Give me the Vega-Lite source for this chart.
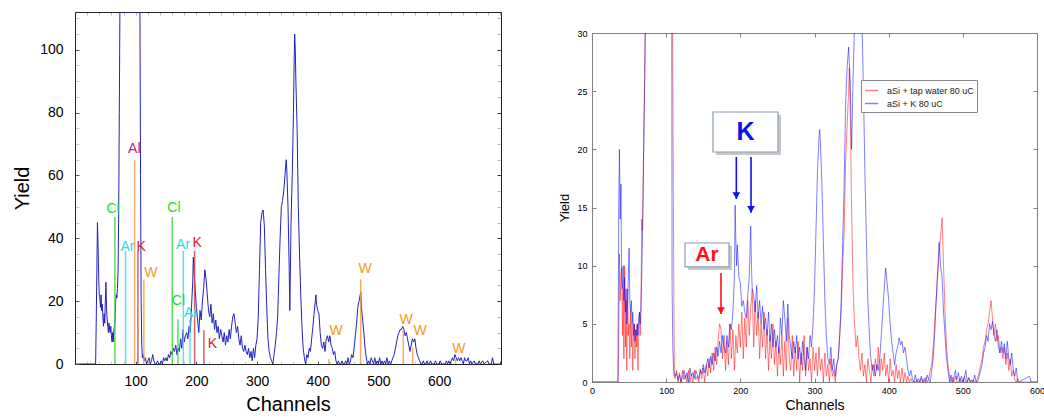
{
"$schema": "https://vega.github.io/schema/vega-lite/v6.json",
"background": "white",
"padding": {"left": 12, "top": 11, "right": 0, "bottom": 0},
"config": {
 "font": "Liberation Sans",
 "view": {"stroke": null},
 "axis": {"grid": false, "labelFont": "Liberation Sans", "titleFont": "Liberation Sans", "titleFontWeight": "normal", "labelFlush": false, "labelOverlap": false, "labelColor": "#000000", "titleColor": "#000000"}
},
"datasets": {
 "left": [
  {"c":0,"y":0},{"c":30,"y":0},{"c":34,"y":0},{"c":35,"y":14},{"c":36,"y":30},{"c":37,"y":45},{"c":38,"y":38},{"c":39,"y":28},{"c":40,"y":22},{"c":41,"y":21},{"c":42,"y":18},{"c":43,"y":22},{"c":44,"y":17},{"c":45,"y":19},{"c":46,"y":15},{"c":47,"y":12},{"c":48,"y":16},{"c":49,"y":13},{"c":50,"y":20},{"c":51,"y":26},{"c":52,"y":18},{"c":53,"y":14},{"c":54,"y":12},{"c":55,"y":10},{"c":56,"y":13},{"c":57,"y":11},{"c":58,"y":10},{"c":59,"y":12},{"c":60,"y":9},{"c":61,"y":7},{"c":62,"y":10},{"c":63,"y":7},{"c":64,"y":11},{"c":65,"y":12},{"c":66,"y":14},{"c":67,"y":20},{"c":68,"y":22},{"c":69,"y":21},{"c":70,"y":24},{"c":71,"y":30},{"c":72,"y":48},{"c":73,"y":80},{"c":74,"y":112},{"c":90,"y":112},{"c":107,"y":112},{"c":108,"y":60},{"c":109,"y":20},{"c":110,"y":6},{"c":111,"y":2},
  {"c":112,"y":3},{"c":114,"y":1},{"c":116,"y":2},{"c":118,"y":0},{"c":120,"y":1},{"c":122,"y":2},{"c":124,"y":0},{"c":126,"y":1},{"c":128,"y":3},{"c":130,"y":1},{"c":132,"y":0},{"c":134,"y":0},{"c":136,"y":1},{"c":138,"y":0},{"c":140,"y":0},{"c":142,"y":1},{"c":144,"y":0},{"c":146,"y":2},{"c":148,"y":1},{"c":150,"y":2},{"c":152,"y":1},{"c":154,"y":3},{"c":156,"y":2},{"c":158,"y":4},{"c":160,"y":3},{"c":162,"y":5},{"c":164,"y":4},{"c":166,"y":6},{"c":168,"y":3},{"c":170,"y":5},{"c":172,"y":4},{"c":174,"y":8},{"c":176,"y":5},{"c":178,"y":11},{"c":180,"y":7},{"c":182,"y":9},{"c":184,"y":10},{"c":186,"y":8},{"c":188,"y":12},{"c":190,"y":10},{"c":192,"y":18},{"c":194,"y":26},{"c":195,"y":34},{"c":196,"y":30},{"c":198,"y":24},{"c":200,"y":18},{"c":202,"y":14},{"c":204,"y":10},{"c":206,"y":17},{"c":208,"y":14},{"c":210,"y":20},{"c":212,"y":24},{"c":214,"y":30},{"c":216,"y":27},{"c":218,"y":22},{"c":220,"y":17},{"c":222,"y":15},{"c":224,"y":19},{"c":226,"y":13},{"c":228,"y":16},{"c":230,"y":11},{"c":232,"y":14},{"c":234,"y":10},{"c":236,"y":12},{"c":238,"y":8},{"c":240,"y":11},{"c":242,"y":9},{"c":244,"y":7},{"c":246,"y":10},{"c":248,"y":6},{"c":250,"y":9},{"c":252,"y":7},{"c":254,"y":11},{"c":256,"y":8},{"c":258,"y":12},{"c":260,"y":15},{"c":262,"y":16},{"c":264,"y":13},{"c":266,"y":10},{"c":268,"y":12},{"c":270,"y":8},{"c":272,"y":6},{"c":274,"y":9},{"c":276,"y":5},{"c":278,"y":4},{"c":280,"y":6},{"c":282,"y":4},{"c":284,"y":3},{"c":286,"y":5},{"c":288,"y":2},{"c":290,"y":4},{"c":292,"y":1},{"c":294,"y":5},{"c":296,"y":2},{"c":298,"y":6},{"c":300,"y":8},{"c":302,"y":15},{"c":304,"y":30},{"c":306,"y":45},{"c":308,"y":48},{"c":310,"y":49},{"c":312,"y":44},{"c":314,"y":30},{"c":316,"y":18},{"c":318,"y":8},{"c":320,"y":4},{"c":322,"y":2},{"c":324,"y":1},{"c":326,"y":0},{"c":328,"y":3},{"c":330,"y":6},{"c":332,"y":10},{"c":334,"y":15},{"c":336,"y":28},{"c":338,"y":40},{"c":340,"y":50},{"c":342,"y":52},{"c":344,"y":55},{"c":346,"y":60},{"c":348,"y":65},{"c":349,"y":62},{"c":351,"y":50},{"c":353,"y":30},{"c":354,"y":17},{"c":356,"y":45},{"c":358,"y":60},{"c":360,"y":80},{"c":361,"y":95},{"c":362,"y":105},{"c":363,"y":100},{"c":364,"y":90},{"c":366,"y":75},{"c":368,"y":50},{"c":370,"y":35},{"c":372,"y":22},{"c":374,"y":12},{"c":376,"y":5},{"c":378,"y":2},{"c":380,"y":0},{"c":382,"y":3},{"c":384,"y":2},{"c":386,"y":5},{"c":388,"y":4},{"c":390,"y":8},{"c":392,"y":12},{"c":394,"y":16},{"c":396,"y":20},{"c":397,"y":22},{"c":398,"y":19},{"c":400,"y":17},{"c":402,"y":16},{"c":404,"y":10},{"c":406,"y":6},{"c":408,"y":5},{"c":410,"y":7},{"c":412,"y":4},{"c":414,"y":8},{"c":416,"y":9},{"c":418,"y":7},{"c":420,"y":9},{"c":422,"y":6},{"c":424,"y":5},{"c":426,"y":3},{"c":428,"y":4},{"c":430,"y":1},{"c":432,"y":0},{"c":434,"y":1},{"c":436,"y":0},{"c":438,"y":0},{"c":440,"y":1},{"c":442,"y":0},{"c":444,"y":0},{"c":446,"y":1},{"c":448,"y":0},{"c":450,"y":2},{"c":452,"y":0},{"c":454,"y":1},{"c":456,"y":3},{"c":458,"y":2},{"c":460,"y":5},{"c":462,"y":9},{"c":464,"y":13},{"c":466,"y":18},{"c":468,"y":20},{"c":470,"y":22},{"c":471,"y":23},{"c":472,"y":18},{"c":474,"y":14},{"c":476,"y":10},{"c":478,"y":5},{"c":480,"y":2},{"c":482,"y":0},{"c":484,"y":1},{"c":486,"y":0},{"c":488,"y":2},{"c":490,"y":1},{"c":492,"y":0},{"c":494,"y":2},{"c":496,"y":0},{"c":498,"y":1},{"c":500,"y":0},{"c":502,"y":2},{"c":504,"y":0},{"c":506,"y":1},{"c":508,"y":0},{"c":510,"y":1},{"c":512,"y":0},{"c":514,"y":2},{"c":516,"y":0},{"c":518,"y":1},{"c":520,"y":0},{"c":522,"y":1},{"c":524,"y":2},{"c":526,"y":3},{"c":528,"y":5},{"c":530,"y":7},{"c":532,"y":9},{"c":534,"y":10},{"c":536,"y":11},{"c":538,"y":11},{"c":540,"y":12},{"c":542,"y":11},{"c":544,"y":9},{"c":546,"y":10},{"c":548,"y":8},{"c":550,"y":6},{"c":552,"y":4},{"c":554,"y":6},{"c":556,"y":8},{"c":558,"y":7},{"c":560,"y":8},{"c":562,"y":5},{"c":564,"y":3},{"c":566,"y":2},{"c":568,"y":1},{"c":570,"y":0},{"c":572,"y":0},{"c":574,"y":1},{"c":576,"y":0},{"c":578,"y":0},{"c":580,"y":1},{"c":582,"y":0},{"c":584,"y":0},{"c":586,"y":1},{"c":588,"y":0},{"c":592,"y":0},{"c":594,"y":1},{"c":596,"y":0},{"c":600,"y":0},{"c":602,"y":1},{"c":604,"y":0},{"c":610,"y":0},{"c":612,"y":1},{"c":614,"y":0},{"c":616,"y":1},{"c":618,"y":0},{"c":620,"y":1},{"c":622,"y":2},{"c":624,"y":1},{"c":626,"y":3},{"c":628,"y":2},{"c":630,"y":1},{"c":632,"y":2},{"c":634,"y":1},{"c":636,"y":2},{"c":638,"y":1},{"c":640,"y":0},{"c":642,"y":2},{"c":644,"y":1},{"c":646,"y":1},{"c":648,"y":2},{"c":650,"y":0},{"c":652,"y":1},{"c":654,"y":0},{"c":658,"y":1},{"c":660,"y":0},{"c":664,"y":0},{"c":666,"y":1},{"c":668,"y":0},{"c":672,"y":1},{"c":674,"y":0},{"c":680,"y":1},{"c":682,"y":0},{"c":686,"y":0},{"c":688,"y":2},{"c":690,"y":0},{"c":700,"y":0}
 ],
 "markers": [
  {"el":"Cl","c":65.8,"h":46.8,"lx":62.8,"ly":49.3},
  {"el":"Ar","c":83.4,"h":36,"lx":86.4,"ly":37.3},
  {"el":"Al","c":98.2,"h":64.8,"lx":97.7,"ly":68.4},
  {"el":"K","c":103.7,"h":36,"lx":108.9,"ly":37.3},
  {"el":"W","c":113.5,"h":26.9,"lx":125.1,"ly":29},
  {"el":"Cl","c":160.3,"h":46.8,"lx":163,"ly":49.7},
  {"el":"Ar","c":178.5,"h":36,"lx":178.1,"ly":37.9},
  {"el":"K","c":197.1,"h":36,"lx":201.2,"ly":38.6},
  {"el":"Cl","c":169.6,"h":14.2,"lx":170.4,"ly":20},
  {"el":"Ar","c":189.4,"h":14,"lx":191,"ly":16.3},
  {"el":"K","c":212.4,"h":10.7,"lx":226.3,"ly":6.4},
  {"el":"W","c":418.4,"h":1.5,"lx":430.3,"ly":10.5},
  {"el":"W","c":470.7,"h":26.9,"lx":478.1,"ly":30.1},
  {"el":"W","c":541,"h":11,"lx":545.7,"ly":13.9},
  {"el":"W","c":556.4,"h":5.2,"lx":568.7,"ly":10.5},
  {"el":"W","c":627.2,"h":1.5,"lx":632.7,"ly":4.9}
 ],
 "right": [
  {"c":0,"r":0,"b":0},{"c":34,"r":0,"b":0},{"c":35,"r":0,"b":0},{"c":36,"r":3,"b":15},{"c":37,"r":11,"b":20},{"c":38,"r":7,"b":14},{"c":39,"r":9,"b":17},{"c":40,"r":9.8,"b":9},{"c":41,"r":4,"b":8},{"c":42,"r":8,"b":10},{"c":43,"r":2,"b":7},{"c":44,"r":10,"b":9},{"c":45,"r":3,"b":6},{"c":46,"r":7,"b":8},{"c":47,"r":1,"b":5},{"c":48,"r":8,"b":7},{"c":49,"r":4,"b":9},{"c":50,"r":5,"b":11.5},{"c":51,"r":2,"b":7},{"c":52,"r":6,"b":6},{"c":53,"r":3,"b":7},{"c":54,"r":5,"b":5},{"c":55,"r":1,"b":6},{"c":56,"r":4,"b":4},{"c":57,"r":5,"b":5},{"c":58,"r":2,"b":3.5},{"c":59,"r":4.5,"b":4.5},{"c":60,"r":3,"b":4},{"c":61,"r":5,"b":5},{"c":62,"r":1,"b":4},{"c":63,"r":4,"b":5.5},{"c":64,"r":6,"b":6},{"c":65,"r":4,"b":5},{"c":66,"r":6,"b":6.5},{"c":67,"r":14,"b":9},{"c":68,"r":13,"b":12},{"c":69,"r":18,"b":16},{"c":70,"r":22,"b":21},{"c":71,"r":26,"b":26},{"c":72,"r":31,"b":31},{"c":73,"r":45,"b":45},{"c":74,"r":60,"b":60},{"c":90,"r":60,"b":60},{"c":107,"r":60,"b":60},{"c":108,"r":45,"b":8},{"c":109,"r":26,"b":3},{"c":110,"r":12,"b":1},{"c":111,"r":1,"b":0.5},{"c":112,"r":0.3,"b":0.5},
  {"c":114,"r":1,"b":0.8},{"c":116,"r":0,"b":0.2},{"c":118,"r":0.8,"b":0.6},{"c":120,"r":0,"b":0},{"c":122,"r":1,"b":0.4},{"c":124,"r":0.2,"b":1},{"c":126,"r":0.6,"b":0.3},{"c":128,"r":0,"b":0.8},{"c":130,"r":1,"b":0},{"c":132,"r":0,"b":1.2},{"c":134,"r":0.7,"b":0.5},{"c":136,"r":0,"b":0.8},{"c":138,"r":1,"b":0.3},{"c":140,"r":0.2,"b":1},{"c":142,"r":0.5,"b":0.6},{"c":144,"r":0,"b":0.3},{"c":146,"r":1,"b":1.1},{"c":148,"r":0.3,"b":0.7},{"c":150,"r":1.2,"b":1.5},{"c":152,"r":0,"b":0.8},{"c":154,"r":1.5,"b":1.3},{"c":156,"r":0.5,"b":2},{"c":158,"r":2,"b":1.2},{"c":160,"r":0.8,"b":2.2},{"c":162,"r":2.5,"b":1.5},{"c":164,"r":1,"b":2.5},{"c":166,"r":3,"b":1.8},{"c":168,"r":1.5,"b":3},{"c":170,"r":3.5,"b":2.2},{"c":172,"r":5,"b":3.5},{"c":174,"r":4.5,"b":2.5},{"c":176,"r":2,"b":4},{"c":178,"r":4,"b":3},{"c":180,"r":1,"b":2.5},{"c":182,"r":3.5,"b":4},{"c":184,"r":1.5,"b":3},{"c":186,"r":5,"b":5},{"c":188,"r":2,"b":4.5},{"c":190,"r":4.5,"b":6},{"c":192,"r":1,"b":9},{"c":193,"r":2.5,"b":15.2},{"c":194,"r":4,"b":12},{"c":195,"r":3,"b":10},{"c":196,"r":2.5,"b":11.8},{"c":198,"r":5,"b":9},{"c":200,"r":3,"b":8.5},{"c":202,"r":6,"b":6.5},{"c":204,"r":2,"b":7},{"c":206,"r":5.5,"b":6},{"c":208,"r":3,"b":5.5},{"c":210,"r":7,"b":7.5},{"c":212,"r":4,"b":9},{"c":214,"r":6.5,"b":13.4},{"c":215,"r":7,"b":10},{"c":216,"r":8,"b":8},{"c":218,"r":3,"b":7.5},{"c":220,"r":7,"b":6},{"c":222,"r":4,"b":8.3},{"c":224,"r":6,"b":5.5},{"c":226,"r":2,"b":7},{"c":228,"r":5,"b":5},{"c":230,"r":3,"b":6.5},{"c":232,"r":6,"b":4.5},{"c":234,"r":2,"b":5.5},{"c":236,"r":4.5,"b":4},{"c":238,"r":1,"b":6},{"c":240,"r":4,"b":3.5},{"c":242,"r":2,"b":5},{"c":244,"r":5,"b":3},{"c":246,"r":1.5,"b":4.5},{"c":248,"r":3.5,"b":3},{"c":250,"r":0.5,"b":4},{"c":252,"r":3,"b":2.5},{"c":254,"r":1.5,"b":5.5},{"c":256,"r":4,"b":4},{"c":258,"r":0.5,"b":7},{"c":260,"r":3.5,"b":5.5},{"c":262,"r":1,"b":3.5},{"c":264,"r":5.5,"b":6.7},{"c":266,"r":2,"b":4},{"c":268,"r":1,"b":3},{"c":270,"r":4,"b":2},{"c":272,"r":0.5,"b":3.5},{"c":274,"r":3,"b":2.5},{"c":276,"r":1,"b":4},{"c":278,"r":3.5,"b":2},{"c":280,"r":0,"b":3},{"c":282,"r":2.5,"b":1.5},{"c":284,"r":1,"b":3.5},{"c":286,"r":4,"b":2},{"c":288,"r":0.5,"b":1},{"c":290,"r":3,"b":3},{"c":292,"r":1,"b":2},{"c":294,"r":2,"b":4},{"c":296,"r":0,"b":3},{"c":298,"r":3,"b":5},{"c":300,"r":1,"b":8},{"c":302,"r":2.5,"b":13},{"c":304,"r":0.5,"b":18},{"c":306,"r":3,"b":21},{"c":307,"r":2,"b":21.7},{"c":308,"r":1,"b":20.5},{"c":310,"r":2,"b":17},{"c":312,"r":0,"b":12},{"c":314,"r":2.5,"b":7},{"c":316,"r":0.5,"b":4},{"c":318,"r":1.5,"b":2},{"c":320,"r":0,"b":1.5},{"c":322,"r":2,"b":3},{"c":324,"r":0.5,"b":1},{"c":326,"r":1,"b":2},{"c":328,"r":0,"b":0.5},{"c":330,"r":1.5,"b":1.5},{"c":332,"r":2,"b":2},{"c":334,"r":4,"b":4},{"c":336,"r":6,"b":7},{"c":338,"r":10,"b":12},{"c":340,"r":13,"b":17},{"c":342,"r":19,"b":24},{"c":344,"r":22,"b":27},{"c":346,"r":25,"b":28.8},{"c":347,"r":27,"b":27.5},{"c":348,"r":24,"b":26},{"c":350,"r":15,"b":20},{"c":352,"r":8,"b":26},{"c":354,"r":5,"b":31},{"c":356,"r":3,"b":40},{"c":358,"r":4,"b":45},{"c":360,"r":2,"b":40},{"c":362,"r":1,"b":35},{"c":364,"r":2.5,"b":31},{"c":366,"r":0.5,"b":25},{"c":368,"r":1.5,"b":18},{"c":370,"r":0,"b":12},{"c":372,"r":2,"b":7},{"c":374,"r":1,"b":4},{"c":376,"r":0,"b":2},{"c":378,"r":1.5,"b":1},{"c":380,"r":0.5,"b":1.5},{"c":382,"r":2,"b":0.5},{"c":384,"r":1,"b":1.5},{"c":386,"r":3,"b":1},{"c":388,"r":0.5,"b":2},{"c":390,"r":2,"b":4},{"c":392,"r":1,"b":6},{"c":394,"r":2.5,"b":8},{"c":396,"r":0.5,"b":9.8},{"c":398,"r":1.5,"b":8.5},{"c":400,"r":0,"b":7},{"c":402,"r":2,"b":5},{"c":404,"r":0.5,"b":3.5},{"c":406,"r":1,"b":2.5},{"c":408,"r":0,"b":1.5},{"c":410,"r":1.5,"b":2.5},{"c":412,"r":0.3,"b":3},{"c":414,"r":1,"b":3.8},{"c":416,"r":0,"b":3.2},{"c":418,"r":1.2,"b":3.5},{"c":420,"r":0,"b":2.5},{"c":422,"r":0.8,"b":3},{"c":424,"r":0,"b":2},{"c":426,"r":0.5,"b":1},{"c":428,"r":0,"b":0.5},{"c":430,"r":0.3,"b":1},{"c":432,"r":0,"b":0.3},{"c":434,"r":0,"b":0},{"c":436,"r":0,"b":0.6},{"c":438,"r":0.2,"b":0},{"c":440,"r":0,"b":0.3},{"c":442,"r":0,"b":0},{"c":444,"r":0.3,"b":0.5},{"c":446,"r":0,"b":0},{"c":448,"r":0,"b":0.3},{"c":450,"r":0.4,"b":0},{"c":452,"r":0,"b":0.6},{"c":454,"r":0.2,"b":0.2},{"c":456,"r":1,"b":0},{"c":458,"r":1.5,"b":1},{"c":460,"r":3,"b":2},{"c":462,"r":5,"b":4},{"c":464,"r":7,"b":7},{"c":466,"r":9,"b":9.5},{"c":468,"r":11,"b":12},{"c":470,"r":12.5,"b":10},{"c":472,"r":14.1,"b":9},{"c":474,"r":10,"b":6},{"c":476,"r":6,"b":4},{"c":478,"r":3,"b":2},{"c":480,"r":1.5,"b":1},{"c":482,"r":0.5,"b":0},{"c":484,"r":0,"b":0.6},{"c":486,"r":0.4,"b":0},{"c":488,"r":0,"b":0.4},{"c":490,"r":0.5,"b":1},{"c":492,"r":0,"b":0.2},{"c":494,"r":0,"b":0.8},{"c":496,"r":0.3,"b":0},{"c":498,"r":0,"b":0.5},{"c":500,"r":0,"b":0},{"c":502,"r":0.5,"b":0.3},{"c":504,"r":0,"b":1},{"c":506,"r":0,"b":0},{"c":508,"r":0.3,"b":0.4},{"c":510,"r":0,"b":0},{"c":512,"r":0,"b":0.2},{"c":514,"r":0.2,"b":0},{"c":516,"r":0,"b":0.6},{"c":518,"r":0,"b":0},{"c":520,"r":0.4,"b":0},{"c":522,"r":0.8,"b":0.5},{"c":524,"r":1.5,"b":1},{"c":526,"r":2,"b":1.5},{"c":528,"r":3,"b":2.5},{"c":530,"r":3.5,"b":3},{"c":532,"r":4.5,"b":4},{"c":534,"r":5,"b":3.5},{"c":536,"r":6,"b":5},{"c":538,"r":7,"b":4.5},{"c":540,"r":5.5,"b":5.2},{"c":542,"r":4,"b":4},{"c":544,"r":5,"b":3.5},{"c":546,"r":3.5,"b":4.5},{"c":548,"r":4,"b":3},{"c":550,"r":2.5,"b":2.5},{"c":552,"r":3,"b":3.5},{"c":554,"r":2,"b":2.5},{"c":556,"r":3,"b":3.3},{"c":558,"r":1.5,"b":2},{"c":560,"r":2.5,"b":3.5},{"c":562,"r":1,"b":2},{"c":564,"r":2,"b":1.5},{"c":566,"r":0.5,"b":2.5},{"c":568,"r":1,"b":1},{"c":570,"r":0.2,"b":0.5},{"c":572,"r":0,"b":1.2},{"c":574,"r":0.3,"b":0},{"c":576,"r":0,"b":0},{"c":590,"r":0,"b":0.5},{"c":592,"r":0,"b":0},{"c":600,"r":0,"b":0}
 ],
 "ann": [
  {"t":"K","x1":163.1,"x2":250.8,"y1":19.77,"y2":23.21,"tx":207,"ty":21.49},
  {"t":"Ar","x1":125.4,"x2":184.7,"y1":9.89,"y2":11.95,"tx":155.1,"ty":10.92}
 ],
 "arr": [
  {"t":"K","c":194.6,"y1":19.34,"y2":15.73},
  {"t":"K","c":214.4,"y1":19.34,"y2":14.55},
  {"t":"Ar","c":173.9,"y1":9.37,"y2":5.85}
 ]
},
"resolve": {"scale": {"color": "independent"}},
"spacing": 56,
"hconcat": [
 {
  "width": 426, "height": 352,
  "layer": [
   {
    "data": {"name": "left"},
    "mark": {"type": "line", "color": "#2222c0", "strokeWidth": 1, "clip": true},
    "encoding": {
     "x": {"field": "c", "type": "quantitative", "scale": {"domain": [0, 702], "nice": false, "zero": false},
      "axis": {"orient": "bottom", "title": "Channels", "titleFontSize": 20, "titlePadding": 6, "labelFontSize": 14, "labelPadding": 13,
       "values": [0,20,40,60,80,100,120,140,160,180,200,220,240,260,280,300,320,340,360,380,400,420,440,460,480,500,520,540,560,580,600,620,640,660,680,700],
       "labelExpr": "datum.value % 100 === 0 && datum.value > 0 && datum.value < 700 ? datum.label : ''",
       "tickSize": -3, "domainColor": "#222222", "tickColor": {"condition": {"test": "datum.value % 100 === 0", "value": "#555555"}, "value": "#cccccc"}}},
     "y": {"field": "y", "type": "quantitative", "scale": {"domain": [0, 112], "nice": false},
      "axis": {"orient": "left", "title": "Yield", "titleFontSize": 20, "titlePadding": 7, "labelFontSize": 14, "labelPadding": 16,
       "values": [0,5,10,15,20,25,30,35,40,45,50,55,60,65,70,75,80,85,90,95,100,105,110],
       "labelExpr": "datum.value % 20 === 0 ? datum.label : ''",
       "tickSize": -4, "domainColor": "#222222", "tickColor": {"condition": {"test": "datum.value % 20 === 0", "value": "#555555"}, "value": "#cccccc"}}}
    }
   },
   {
    "data": {"name": "markers"},
    "mark": {"type": "rule", "strokeWidth": 1.5, "opacity": 0.85},
    "encoding": {
     "x": {"field": "c", "type": "quantitative",
      "axis": {"orient": "top", "title": null, "labels": false, "values": [0,20,40,60,80,100,120,140,160,180,200,220,240,260,280,300,320,340,360,380,400,420,440,460,480,500,520,540,560,580,600,620,640,660,680,700], "tickSize": -3, "domainColor": "#222222", "tickColor": "#bbbbbb"}},
     "y": {"field": "h", "type": "quantitative",
      "axis": {"orient": "right", "title": null, "labels": false, "values": [0,5,10,15,20,25,30,35,40,45,50,55,60,65,70,75,80,85,90,95,100,105,110], "tickSize": -4, "domainColor": "#222222", "tickColor": {"condition": {"test": "datum.value % 20 === 0", "value": "#333333"}, "value": "#bbbbbb"}}},
     "y2": {"datum": 0},
     "color": {"field": "el", "type": "nominal", "legend": null,
      "scale": {"domain": ["Cl", "Ar", "Al", "K", "W"], "range": ["#3ed43e", "#3fdede", "#f0a050", "#c84848", "#f0a040"]}}
    }
   },
   {
    "data": {"name": "markers"},
    "mark": {"type": "text", "fontSize": 14, "align": "center", "baseline": "middle"},
    "encoding": {
     "x": {"field": "lx", "type": "quantitative", "axis": null},
     "y": {"field": "ly", "type": "quantitative", "axis": null},
     "text": {"field": "el"},
     "color": {"field": "el", "type": "nominal", "legend": null,
      "scale": {"domain": ["Cl", "Ar", "Al", "K", "W"], "range": ["#22dd22", "#22dddd", "#b0207a", "#e02020", "#f09a20"]}}
    }
   }
  ],
  "resolve": {"scale": {"color": "independent"}, "axis": {"x": "independent", "y": "independent"}}
 },
 {
  "spacing": 0,
  "vconcat": [
   {
    "width": 445, "height": 17,
    "data": {"values": []},
    "mark": {"type": "text"},
    "encoding": {}
   },
   {
    "width": 445, "height": 349,
    "layer": [
     {
      "data": {"name": "right"},
      "mark": {"type": "line", "strokeWidth": 1, "opacity": 0.5, "clip": true},
      "encoding": {
       "x": {"field": "c", "type": "quantitative", "scale": {"domain": [0, 600], "nice": false, "zero": false},
        "axis": {"orient": "bottom", "title": "Channels", "titleFontSize": 14, "titlePadding": 3, "labelFontSize": 9, "labelPadding": 8,
         "values": [0,100,200,300,400,500,600], "tickSize": -4, "domainColor": "#808080", "tickColor": "#808080"}},
       "y": {"field": "r", "type": "quantitative", "scale": {"domain": [0, 30], "nice": false},
        "axis": {"orient": "left", "title": "Yield", "titleFontSize": 13, "titlePadding": 5, "labelFontSize": 9, "labelPadding": 9,
         "values": [0,5,10,15,20,25,30], "tickSize": -4, "domainColor": "#808080", "tickColor": "#808080"}},
       "color": {"datum": "aSi + tap water 80 uC", "type": "nominal",
        "scale": {"domain": ["aSi + tap water 80 uC", "aSi + K 80 uC"], "range": ["#ff0000", "#0000ff"]},
        "legend": {"title": null, "orient": "none", "legendX": 269, "legendY": 68,
         "labelFontSize": 9, "labelColor": "#222222", "symbolType": "stroke", "symbolSize": 169, "symbolStrokeWidth": 1.5, "symbolOpacity": 0.5,
         "strokeColor": "#888888", "fillColor": "white", "padding": 3, "rowPadding": -4, "labelOffset": 8}}
      }
     },
     {
      "data": {"name": "right"},
      "mark": {"type": "line", "strokeWidth": 1, "opacity": 0.5, "clip": true},
      "encoding": {
       "x": {"field": "c", "type": "quantitative", "axis": null},
       "y": {"field": "b", "type": "quantitative", "axis": null},
       "color": {"datum": "aSi + K 80 uC", "type": "nominal"}
      }
     },
     {
      "data": {"name": "ann"},
      "mark": {"type": "rect", "fill": "#9a9a9a", "opacity": 0.55, "xOffset": 3, "x2Offset": 3, "yOffset": 3, "y2Offset": 3},
      "encoding": {
       "x": {"field": "x1", "type": "quantitative",
        "axis": {"orient": "top", "title": null, "labels": false, "values": [0,100,200,300,400,500,600], "tickSize": -4, "domainColor": "#808080", "tickColor": "#808080"}},
       "x2": {"field": "x2"},
       "y": {"field": "y1", "type": "quantitative",
        "axis": {"orient": "right", "title": null, "labels": false, "values": [0,5,10,15,20,25,30], "tickSize": -4, "domainColor": "#808080", "tickColor": "#808080"}},
       "y2": {"field": "y2"}
      }
     },
     {
      "data": {"name": "ann"},
      "mark": {"type": "rect", "fill": "white", "stroke": "#8c9db3", "strokeWidth": 1.2},
      "encoding": {
       "x": {"field": "x1", "type": "quantitative", "axis": null},
       "x2": {"field": "x2"},
       "y": {"field": "y1", "type": "quantitative", "axis": null},
       "y2": {"field": "y2"}
      }
     },
     {
      "data": {"name": "ann"},
      "mark": {"type": "text", "fontWeight": "bold", "align": "center", "baseline": "middle"},
      "encoding": {
       "x": {"field": "tx", "type": "quantitative", "axis": null},
       "y": {"field": "ty", "type": "quantitative", "axis": null},
       "text": {"field": "t"},
       "color": {"condition": {"test": "datum.t == 'K'", "value": "#0a14e6"}, "value": "#ff1010"},
       "size": {"condition": {"test": "datum.t == 'K'", "value": 25}, "value": 21}
      }
     },
     {
      "data": {"name": "arr"},
      "mark": {"type": "rule", "strokeWidth": 1.6},
      "encoding": {
       "x": {"field": "c", "type": "quantitative", "axis": null},
       "y": {"field": "y1", "type": "quantitative", "axis": null},
       "y2": {"field": "y2"},
       "color": {"condition": {"test": "datum.t == 'K'", "value": "#0a14e6"}, "value": "#ff1010"}
      }
     },
     {
      "data": {"name": "arr"},
      "mark": {"type": "point", "shape": "triangle-down", "filled": true, "size": 60, "opacity": 1, "yOffset": -3.3},
      "encoding": {
       "x": {"field": "c", "type": "quantitative", "axis": null},
       "y": {"field": "y2", "type": "quantitative", "axis": null},
       "color": {"condition": {"test": "datum.t == 'K'", "value": "#0a14e6"}, "value": "#ff1010"}
      }
     }
    ],
    "resolve": {"axis": {"x": "independent", "y": "independent"}}
   }
  ]
 }
]
}
